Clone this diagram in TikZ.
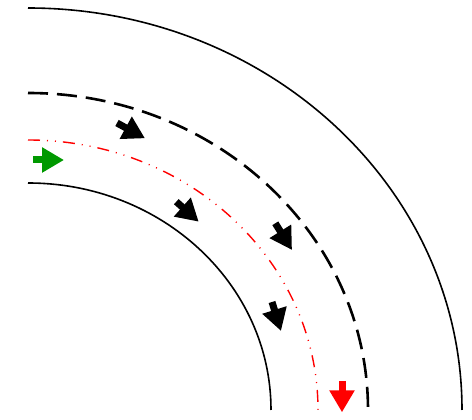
\documentclass[tikz,border=0pt]{standalone}
\usepackage{tikz}
\usetikzlibrary{calc, arrows.meta}
\definecolor{goGreen}{RGB}{0, 153, 0}
\definecolor{stopRed}{RGB}{255, 0, 0}

\begin{document}
\begin{tikzpicture}[x=1pt, y=1pt,
  edge/.style={line width=1.6pt},
  lanemark/.style={line width=2.6pt, dash pattern=on 20pt off 9pt},
  track/.style={stopRed, line width=1.4pt, dash pattern=on 12pt off 7pt on 1pt off 7pt on 1pt off 7pt},
  flow/.style={line width=7pt, -{Triangle[length=22pt, width=24pt]}}]
  \useasboundingbox (0,0) rectangle (472,420);
  \coordinate (c) at (28,10);
  % road edges and centre line
  \draw[edge] ($(c)+(0,227)$) arc[start angle=90, end angle=0, x radius=243pt, y radius=227pt];
  \draw[edge] ($(c)+(0,402)$) arc[start angle=90, end angle=0, x radius=434pt, y radius=402pt];
  \draw[lanemark] ($(c)+(0,317)$) arc[start angle=90, end angle=0, x radius=340pt, y radius=317pt];
  % trajectory
  \draw[track] ($(c)+(0,270)$) arc[start angle=90, end angle=0, x radius=290pt, y radius=270pt];
  % start and end
  \draw[flow, goGreen] (33,260) -- (64,260);
  \draw[flow, stopRed] (342,39) -- (342,7.7);
  % motion along the lane
  \draw[flow] (117,297) -- (145,281.7);
  \draw[flow] (176.3,218.3) -- (198.7,198.3);
  \draw[flow] (275.3,196.7) -- (292,170);
  \draw[flow] (272,118) -- (281,89);
\end{tikzpicture}
\end{document}
